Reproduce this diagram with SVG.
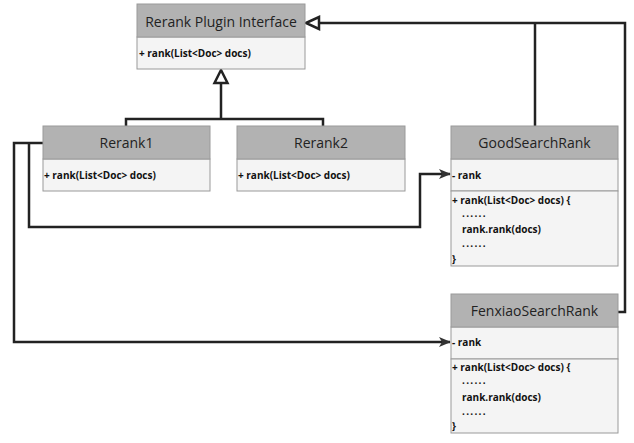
<svg xmlns="http://www.w3.org/2000/svg" width="634" height="443" viewBox="0 0 634 443">
<style>
.hdr{fill:#b2b2b2;stroke:#9a9a9a;stroke-width:1}
.bdy{fill:#f4f4f4;stroke:#9a9a9a;stroke-width:1}
.ttl{font-family:"Open Sans","Noto Sans",sans-serif;font-size:14px;fill:#222;text-anchor:middle;dominant-baseline:central}
.mem{font-family:"Open Sans","Noto Sans",sans-serif;font-size:10px;font-weight:700;fill:#111;dominant-baseline:central}
.dots{letter-spacing:1.3px}
.ln{fill:none;stroke:#222;stroke-width:2.5;stroke-linejoin:miter}
</style>
<defs>
<marker id="arr" viewBox="0 0 12 10" refX="11" refY="5" markerWidth="12" markerHeight="10" markerUnits="userSpaceOnUse" orient="auto">
<path d="M0,0 L12,5 L0,10 L3,5 z" fill="#333"/>
</marker>
</defs>
<rect width="634" height="443" fill="#ffffff"/>
<g id="connectors">
<path class="ln" d="M126 126 V119 H323 V126"/>
<path class="ln" d="M221 119 V83"/>
<polygon points="221,70 214.5,83 227.5,83" fill="#fff" stroke="#222" stroke-width="2.5"/>
<path class="ln" d="M618 312 H625 V23 H319"/>
<path class="ln" d="M535 126 V23"/>
<polygon points="306,23 319,17 319,29" fill="#fff" stroke="#222" stroke-width="2.5"/>
<path class="ln" d="M43 143 H14 V342 H450" marker-end="url(#arr)"/>
<path class="ln" d="M29 143 V227 H420 V174 H450" marker-end="url(#arr)"/>
</g>
<g id="interface">
<rect class="bdy" x="137" y="37" width="168" height="32"/>
<rect class="hdr" x="137" y="4" width="168" height="33"/>
<text class="ttl" x="221" y="21">Rerank Plugin Interface</text>
<text class="mem" x="139" y="53">+ rank(List&lt;Doc&gt; docs)</text>
</g>
<g id="rerank1">
<rect class="bdy" x="43" y="159" width="167" height="32"/>
<rect class="hdr" x="43" y="126" width="167" height="33"/>
<text class="ttl" x="126.5" y="142.5">Rerank1</text>
<text class="mem" x="44" y="175">+ rank(List&lt;Doc&gt; docs)</text>
</g>
<g id="rerank2">
<rect class="bdy" x="237" y="159" width="168" height="32"/>
<rect class="hdr" x="237" y="126" width="168" height="33"/>
<text class="ttl" x="321" y="142.5">Rerank2</text>
<text class="mem" x="238" y="175">+ rank(List&lt;Doc&gt; docs)</text>
</g>
<g id="goodsearchrank">
<rect class="bdy" x="451" y="159" width="167" height="32"/>
<rect class="bdy" x="451" y="191" width="167" height="75"/>
<rect class="hdr" x="451" y="126" width="167" height="33"/>
<text class="ttl" x="534.5" y="142.5">GoodSearchRank</text>
<text class="mem" x="452" y="175">- rank</text>
<text class="mem" x="452" y="200">+ rank(List&lt;Doc&gt; docs) {</text>
<text class="mem dots" x="462" y="213">......</text>
<text class="mem" x="462" y="229">rank.rank(docs)</text>
<text class="mem dots" x="462" y="243">......</text>
<text class="mem" x="452" y="259">}</text>
</g>
<g id="fenxiaosearchrank">
<rect class="bdy" x="451" y="327" width="167" height="32"/>
<rect class="bdy" x="451" y="359" width="167" height="74"/>
<rect class="hdr" x="451" y="294" width="167" height="33"/>
<text class="ttl" x="534.5" y="310.5">FenxiaoSearchRank</text>
<text class="mem" x="452" y="342">- rank</text>
<text class="mem" x="452" y="367">+ rank(List&lt;Doc&gt; docs) {</text>
<text class="mem dots" x="462" y="380">......</text>
<text class="mem" x="462" y="397">rank.rank(docs)</text>
<text class="mem dots" x="462" y="411">......</text>
<text class="mem" x="452" y="426">}</text>
</g>
</svg>
